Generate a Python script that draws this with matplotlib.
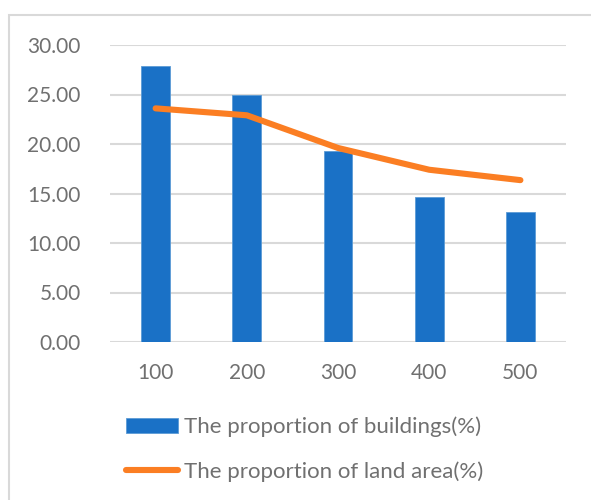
import matplotlib.pyplot as plt
from matplotlib.patches import Rectangle

plt.rcParams['font.family'] = ['Lato', 'DejaVu Sans']

# distance classes and the two proportions (%)
categories = ['100', '200', '300', '400', '500']
buildings = [27.85, 25.00, 19.30, 14.60, 13.10]
land_area = [23.60, 22.90, 19.60, 17.40, 16.35]

blue = '#1a71c6'
orange = '#fb7e23'
text_gray = '#707070'
grid_gray = '#d9d9d9'

fig = plt.figure(figsize=(5.91, 5.0), dpi=100)
ax = fig.add_axes([110 / 591, 1 - 342 / 500, 456 / 591, 297 / 500])

x = range(len(categories))
bars = ax.bar(x, buildings, width=0.314, color=blue, edgecolor='#5b9bd5',
              linewidth=0.6, zorder=3, label='The proportion of buildings(%)')
line, = ax.plot(x, land_area, color=orange, linewidth=4.4, solid_capstyle='round',
                solid_joinstyle='round', zorder=4, label='The proportion of land area(%)')

ax.set_xlim(-0.5, len(categories) - 0.5)
ax.set_ylim(0, 30)
ax.set_yticks(range(0, 31, 5))
ax.set_yticklabels([f'{v:.2f}' for v in range(0, 31, 5)])
ax.set_xticks(list(x))
ax.set_xticklabels(categories)
ax.tick_params(axis='both', length=0, labelsize=15, labelcolor=text_gray)
ax.tick_params(axis='y', pad=21)
ax.tick_params(axis='x', pad=15)
ax.grid(axis='y', color=grid_gray, linewidth=1.5, zorder=0)
ax.set_axisbelow(True)
for s in ax.spines.values():
    s.set_visible(False)

# chart frame
fig.patches.append(Rectangle((9 / 591, -0.1), 1.2, 1.1 - 15 / 500, transform=fig.transFigure,
                             fill=False, edgecolor=grid_gray, linewidth=1.5))

fig.legend(handles=[bars, line], loc='upper left', bbox_to_anchor=(117 / 591, 1 - 408 / 500),
           frameon=False, fontsize=16, labelcolor=text_gray, handlelength=2.35,
           handletextpad=0.28, labelspacing=1.06, borderaxespad=0)

fig.savefig('out.png', dpi=100)
